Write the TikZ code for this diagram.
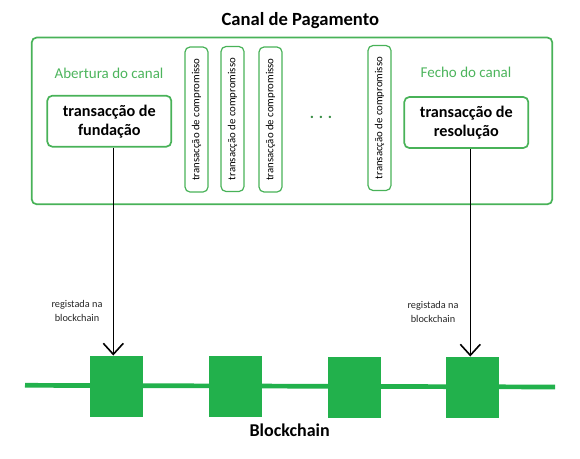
\documentclass[tikz,border=0pt]{standalone}
\usepackage{fontspec}
\setmainfont{Carlito}
\usetikzlibrary{arrows.meta}

\definecolor{verdecaixa}{RGB}{72,178,88}
\definecolor{verdetexto}{RGB}{76,180,92}
\definecolor{verdebloco}{RGB}{34,177,76}

\tikzset{
    caixa/.style = {draw=verdecaixa, line width=1.7pt, rounded corners=5pt},
    compromisso/.style = {caixa, line width=1.2pt, rounded corners=5pt, rotate=90,
        minimum width=145pt, minimum height=23pt, inner sep=0pt, font=\fontsize{10.8}{12}\selectfont},
    principal/.style = {caixa, minimum width=124pt, minimum height=51pt, inner sep=0pt,
        align=center, font=\fontsize{16.2}{19}\selectfont\bfseries},
    fase/.style = {text=verdetexto, font=\fontsize{15}{17}\selectfont},
    bloco/.style = {fill=verdebloco, minimum width=53pt, minimum height=61pt, inner sep=0pt},
    registo/.style = {align=center, text=black!85, font=\fontsize{10.3}{14}\selectfont},
    seta/.style = {line width=1.6pt, -{Straight Barb[length=11pt,width=20pt,line width=1.6pt]}}
}

\begin{document}
\begin{tikzpicture}[x=1pt, y=-1pt]
    \useasboundingbox (0,0) rectangle (580,458);

    \node [font=\fontsize{18.6}{21}\selectfont\bfseries] (titulo) at (300.3,21) {Canal de Pagamento};
    \draw [caixa] (31.7,37.5) rectangle (552.3,204.3);

    \node [fase] (abertura) at (109,73) {Abertura do canal};
    \node [fase] (fecho) at (466,72.7) {Fecho do canal};
    \node [principal] (fundacao) at (109.3,121.2) {transacção de\\fundação};
    \node [principal] (resolucao) at (466.3,122.5) {transacção de\\resolução};

    \node [compromisso] (compromisso1) at (196.5,119.5) {transacção de compromisso};
    \node [compromisso] (compromisso2) at (232.5,119) {transacção de compromisso};
    \node [compromisso] (compromisso3) at (270.5,119.5) {transacção de compromisso};
    \node [compromisso] (compromisso4) at (379.5,118) {transacção de compromisso};
    \node [text=verdecaixa!80!black, font=\fontsize{16}{16}\selectfont\bfseries] (reticencias) at (321,117) {. . .};

    % cadeia de blocos
    \draw [verdebloco, line width=4.7pt] (25,385.3) -- (555,387);
    \node [bloco] (bloco1) at (116.7,386.2) {};
    \node [bloco] (bloco2) at (235.7,386.2) {};
    \node [bloco] (bloco3) at (354.3,387.2) {};
    \node [bloco] (bloco4) at (472.7,387.5) {};
    \node [font=\fontsize{18}{20}\selectfont\bfseries] (cadeia) at (289.7,430.7) {Blockchain};

    \coordinate (alvo1) at (113.3,355.5);
    \coordinate (alvo2) at (470.3,356.5);
    \draw [seta] (fundacao.south -| alvo1) -- (alvo1);
    \draw [seta] (resolucao.south -| alvo2) -- (alvo2);

    \node [registo] (registo1) at (77,311.3) {registada na\\blockchain};
    \node [registo] (registo2) at (433,311.8) {registada na\\blockchain};

\end{tikzpicture}
\end{document}
